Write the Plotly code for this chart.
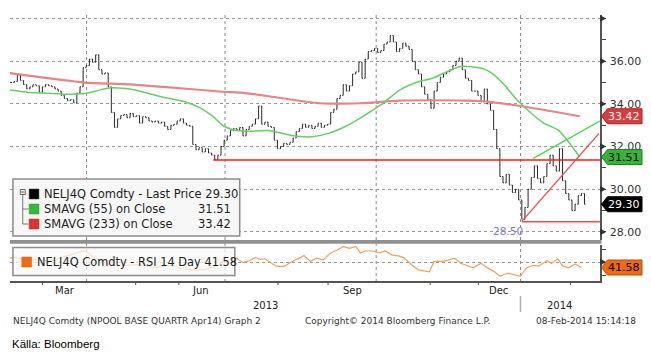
import plotly.graph_objects as go

# ---------------- data ----------------
bar_dates = [
 "2013-02-09","2013-02-11","2013-02-13","2013-02-15","2013-02-17","2013-02-19","2013-02-21","2013-02-23","2013-02-25","2013-02-27",
 "2013-03-01","2013-03-03","2013-03-05","2013-03-07","2013-03-09","2013-03-11","2013-03-13","2013-03-15","2013-03-17","2013-03-19","2013-03-21","2013-03-23","2013-03-25","2013-03-27","2013-03-29","2013-03-31",
 "2013-04-02","2013-04-04","2013-04-06","2013-04-08","2013-04-10","2013-04-12","2013-04-14","2013-04-16","2013-04-18","2013-04-20","2013-04-22","2013-04-24","2013-04-26","2013-04-28","2013-04-30",
 "2013-05-02","2013-05-04","2013-05-06","2013-05-08","2013-05-10","2013-05-12","2013-05-14","2013-05-16","2013-05-18","2013-05-20","2013-05-22","2013-05-24","2013-05-26","2013-05-28","2013-05-30",
 "2013-06-01","2013-06-03","2013-06-05","2013-06-07","2013-06-09","2013-06-11","2013-06-13","2013-06-15","2013-06-17","2013-06-19","2013-06-21","2013-06-23","2013-06-25","2013-06-27","2013-06-29",
 "2013-07-01","2013-07-03","2013-07-05","2013-07-07","2013-07-09","2013-07-11","2013-07-13","2013-07-15","2013-07-17","2013-07-19","2013-07-21","2013-07-23","2013-07-25","2013-07-27","2013-07-29","2013-07-31",
 "2013-08-02","2013-08-04","2013-08-06","2013-08-08","2013-08-10","2013-08-12","2013-08-14","2013-08-16","2013-08-18","2013-08-20","2013-08-22","2013-08-24","2013-08-26","2013-08-28","2013-08-30",
 "2013-09-01","2013-09-03","2013-09-05","2013-09-07","2013-09-09","2013-09-11","2013-09-13","2013-09-15","2013-09-17","2013-09-19","2013-09-21","2013-09-23","2013-09-25","2013-09-27","2013-09-29",
 "2013-10-01","2013-10-03","2013-10-05","2013-10-07","2013-10-09","2013-10-11","2013-10-13","2013-10-15","2013-10-17","2013-10-19","2013-10-21","2013-10-23","2013-10-25","2013-10-27","2013-10-29","2013-10-31",
 "2013-11-02","2013-11-04","2013-11-06","2013-11-08","2013-11-10","2013-11-12","2013-11-14","2013-11-16","2013-11-18","2013-11-20","2013-11-22","2013-11-24","2013-11-26","2013-11-28","2013-11-30",
 "2013-12-02","2013-12-04","2013-12-06","2013-12-08","2013-12-10","2013-12-12","2013-12-14","2013-12-16","2013-12-18","2013-12-20","2013-12-22","2013-12-24","2013-12-26","2013-12-28","2013-12-30",
 "2014-01-01","2014-01-03","2014-01-05","2014-01-07","2014-01-09","2014-01-11","2014-01-13","2014-01-15","2014-01-17","2014-01-19","2014-01-21","2014-01-23","2014-01-25","2014-01-27","2014-01-29","2014-01-31",
 "2014-02-02","2014-02-04","2014-02-06","2014-02-08","2014-02-10",
]
bar_close = [
 35.0, 35.05, 35.35, 35.1, 34.9, 34.7, 34.8, 34.9, 34.85, 34.55,
 34.8, 34.9, 34.85, 34.8, 34.7, 34.6, 34.4, 34.25, 34.15, 34.2, 34.05, 34.5, 34.8, 35.7, 35.8, 36.1,
 35.95, 36.3, 35.6, 35.4, 35.45, 34.8, 33.6, 32.9, 33.3, 33.45, 33.5, 33.35, 33.55, 33.4, 33.45,
 33.1, 33.4, 33.35, 33.2, 33.15, 33.2, 33.1, 33.15, 32.95, 32.8, 33.0, 33.05, 33.2, 33.3, 33.1,
 33.0, 32.95, 32.1, 31.85, 31.95, 31.75, 31.9, 31.7, 31.6, 31.4, 31.6, 32.0, 32.3, 32.5, 32.75,
 32.85, 32.8, 32.9, 32.5, 32.8, 32.95, 33.05, 33.3, 33.9, 33.05, 33.15, 32.95, 32.9, 32.3, 31.9, 32.0,
 32.15, 32.1, 32.2, 32.4, 32.7, 32.85, 33.05, 32.9, 33.0, 32.85, 32.95, 33.1, 32.9, 33.0, 33.05,
 33.6, 33.75, 34.25, 34.4, 34.9, 34.6, 34.85, 35.4, 35.5, 35.95, 35.2, 36.1, 36.45, 36.5, 36.6,
 36.4, 36.5, 36.8, 36.9, 37.2, 36.9, 36.45, 36.6, 36.85, 36.7, 36.55, 36.0, 35.6, 35.4, 34.8, 34.45,
 34.2, 33.8, 34.6, 35.0, 35.25, 35.4, 35.5, 35.6, 35.8, 36.0, 36.15, 35.6, 35.2, 35.1, 34.6,
 34.6, 34.4, 34.1, 34.7, 34.0, 33.7, 32.8, 31.9, 30.6, 30.3, 30.7, 30.2, 29.85, 30.0, 29.5,
 28.6, 29.15, 30.0, 30.55, 31.1, 30.5, 30.3, 30.6, 31.2, 31.6, 31.1, 30.85, 31.9, 30.4, 29.8, 29.5,
 29.0, 29.3, 29.7, 29.8, 29.3,
]

sma55_dates = ["2013-02-08","2013-02-19","2013-03-04","2013-03-16","2013-03-29","2013-04-04","2013-04-12",
               "2013-04-19","2013-04-26","2013-05-05","2013-05-18","2013-05-31","2013-06-10","2013-06-18",
               "2013-06-24","2013-07-01","2013-07-10","2013-07-23","2013-08-09","2013-08-20","2013-08-31",
               "2013-09-12","2013-09-23","2013-10-03","2013-10-15","2013-10-27","2013-11-05","2013-11-14",
               "2013-11-22","2013-11-30","2013-12-08","2013-12-13","2013-12-21","2013-12-29","2014-01-07",
               "2014-01-15","2014-01-24","2014-01-30","2014-02-07"]
sma55_vals = [34.65, 34.55, 34.5, 34.45, 34.5, 34.6, 34.75, 34.75, 34.7, 34.55, 34.3, 34.1, 33.8, 33.4,
              33.0, 32.78, 32.72, 32.75, 32.5, 32.46, 32.63, 33.0, 33.48, 33.95, 34.65, 35.04, 35.2, 35.5,
              35.74, 35.74, 35.63, 35.43, 34.88, 34.18, 33.56, 33.1, 32.78, 32.3, 31.51]

sma233_dates = ["2013-02-07","2013-03-28","2013-04-23","2013-05-17","2013-06-24","2013-07-07","2013-07-29",
                "2013-08-25","2013-09-20","2013-10-15","2013-11-28","2013-12-08","2013-12-31","2014-02-07"]
sma233_vals = [35.45, 35.0, 34.93, 34.8, 34.57, 34.52, 34.3, 34.03, 34.03, 34.15, 34.15, 34.12, 33.9, 33.42]

rsi_dates = ["2013-02-08","2013-02-11","2013-02-14","2013-02-21","2013-02-27","2013-03-05","2013-03-11",
             "2013-03-18","2013-03-22","2013-03-27","2013-03-30","2013-04-02","2013-04-05","2013-04-12",
             "2013-04-17","2013-04-25","2013-05-01","2013-05-07","2013-05-12","2013-05-17","2013-05-22",
             "2013-05-29","2013-06-04","2013-06-12","2013-06-18","2013-06-20","2013-06-24","2013-06-29",
             "2013-07-03","2013-07-07","2013-07-11","2013-07-15","2013-07-18","2013-07-21","2013-07-25",
             "2013-07-28","2013-07-31","2013-08-03","2013-08-06","2013-08-09","2013-08-12","2013-08-15",
             "2013-08-19","2013-08-23","2013-08-27","2013-09-01","2013-09-05","2013-09-09","2013-09-13",
             "2013-09-17","2013-09-20","2013-09-23","2013-09-28","2013-10-02","2013-10-06","2013-10-10",
             "2013-10-15","2013-10-18","2013-10-23","2013-10-27","2013-10-31","2013-11-03","2013-11-06",
             "2013-11-11","2013-11-15","2013-11-19","2013-11-23","2013-11-28","2013-12-01","2013-12-06",
             "2013-12-10","2013-12-14","2013-12-18","2013-12-23","2013-12-26","2013-12-31","2014-01-04",
             "2014-01-08","2014-01-12","2014-01-17","2014-01-20","2014-01-24","2014-01-27","2014-01-31",
             "2014-02-04","2014-02-08"]
rsi_vals = [56, 57, 55, 54, 53, 52, 55, 60, 64, 67, 65, 58, 55, 46, 44, 45, 46, 44, 41, 43, 45, 40, 38, 38,
            42, 44, 50, 53, 56, 49, 52, 57, 54, 55, 48, 44, 43, 44, 49, 52, 56, 60, 51, 56, 53, 64, 68, 74,
            71, 74, 64, 67, 67, 64, 67, 61, 59, 56, 45, 38, 36, 35, 51, 51, 53, 56, 48, 44, 41, 48, 41, 36,
            28, 33, 31, 28, 41, 45, 44, 52, 48, 55, 44, 41, 47, 41.58]

support_dates = ["2013-06-18", "2014-02-19 21:00"]
support_vals = [31.37, 31.37]
low_dates = ["2014-01-01", "2014-02-19 21:00"]
low_vals = [28.48, 28.48]
red_trend_dates = ["2014-01-01", "2014-02-19 07:00"]
red_trend_vals = [28.50, 32.62]
green_trend_dates = ["2014-01-08 07:00", "2014-02-19 21:00"]
green_trend_vals = [31.45, 33.20]

last_price = 29.30
sma55_last = 31.51
sma233_last = 33.42
rsi_last = 41.58
low_mark = 28.50
low_mark_date = "2014-01-01"
price_ticks = [28, 30, 32, 34, 36, 38]

if len(bar_dates) != len(bar_close):
    raise SystemExit(f"length mismatch {len(bar_dates)} {len(bar_close)}")

# ---------------- build OHLC table from closes ----------------
bar_open = [bar_close[0]] + bar_close[:-1]
bar_high = [max(o, c) for o, c in zip(bar_open, bar_close)]
bar_low = [min(o, c) for o, c in zip(bar_open, bar_close)]

FONT = "DejaVu Sans"
W, H = 651, 353
ML, MR, MT, MB = 10, 40, 15, 72
PW, PH = W - ML - MR, H - MT - MB


def px(x):
    return (x - ML) / PW


def py(y):
    return (H - MB - y) / PH


fig = go.Figure()

fig.add_trace(go.Scatter(x=sma233_dates, y=sma233_vals, mode="lines",
                         line=dict(color="#e68585", width=2.2, shape="spline", smoothing=0.6),
                         xaxis="x", yaxis="y", hoverinfo="skip"))
fig.add_trace(go.Scatter(x=sma55_dates, y=sma55_vals, mode="lines",
                         line=dict(color="#66cf66", width=1.5, shape="spline", smoothing=0.6),
                         xaxis="x", yaxis="y", hoverinfo="skip"))
fig.add_trace(go.Ohlc(x=bar_dates, open=bar_open, high=bar_high, low=bar_low, close=bar_close,
                      increasing=dict(line=dict(color="#111111", width=0.9)),
                      decreasing=dict(line=dict(color="#111111", width=0.9)),
                      tickwidth=0.3, xaxis="x", yaxis="y", hoverinfo="skip"))
fig.add_trace(go.Scatter(x=support_dates, y=support_vals, mode="lines",
                         line=dict(color="#ff1a1a", width=1.5), xaxis="x", yaxis="y", hoverinfo="skip"))
fig.add_trace(go.Scatter(x=low_dates, y=low_vals, mode="lines",
                         line=dict(color="#ff4a4a", width=1.3), xaxis="x", yaxis="y", hoverinfo="skip"))
fig.add_trace(go.Scatter(x=red_trend_dates, y=red_trend_vals, mode="lines",
                         line=dict(color="#ff4545", width=1.3), xaxis="x", yaxis="y", hoverinfo="skip"))
fig.add_trace(go.Scatter(x=green_trend_dates, y=green_trend_vals, mode="lines",
                         line=dict(color="#3de03d", width=1.3), xaxis="x", yaxis="y", hoverinfo="skip"))
fig.add_trace(go.Scatter(x=rsi_dates, y=rsi_vals, mode="lines",
                         line=dict(color="#f3a05c", width=1.2),
                         xaxis="x", yaxis="y2", hoverinfo="skip"))

shapes = []
annotations = []


def pline(x0, y0, x1, y1, color, width=1, dash=None, layer="above"):
    shapes.append(dict(type="line", xref="paper", yref="paper", x0=px(x0), y0=py(y0), x1=px(x1), y1=py(y1),
                       line=dict(color=color, width=width, dash=dash) if dash else dict(color=color, width=width),
                       layer=layer))


def prect(x0, y0, x1, y1, fill, line=None, lw=0, layer="above"):
    shapes.append(dict(type="rect", xref="paper", yref="paper", x0=px(x0), y0=py(y0), x1=px(x1), y1=py(y1),
                       fillcolor=fill, line=dict(color=line or fill, width=lw), layer=layer))


def ptext(text, x, y, size, color="#1e1e1e", xanchor="left", family=FONT):
    annotations.append(dict(text=text, xref="paper", yref="paper", x=px(x), y=py(y), xanchor=xanchor,
                            yanchor="middle", showarrow=False, font=dict(family=family, size=size, color=color)))


# vertical dotted quarter gridlines and month ticks
for gx in [88, 229, 383, 530]:
    pline(gx, 15, gx, 285, "#8a8a8a", 1, "dot", layer="below")
for tx in [43, 138, 182, 283, 334, 438, 487, 581]:
    pline(tx, 281, tx, 285, "#555555", 1)
pline(530, 296, 530, 312, "#b0b0b0", 1.5)

# separator between panels
prect(10, 240, 612.5, 243.8, "#909090")

# main legend box
prect(13, 179, 244, 236, "#f7f7f7", "#8c8c8c", 1.5)
prect(20.5, 189.5, 25.5, 194.5, "#ffffff", "#666666", 1)
pline(21.5, 192, 24.5, 192, "#444444", 1)
pline(23, 194.5, 23, 224, "#777777", 1)
pline(23, 209, 29, 209, "#777777", 1)
pline(23, 224, 29, 224, "#777777", 1)
prect(29.5, 189, 39.5, 199, "#000000", "#444444", 0.5)
prect(29.5, 204, 39.5, 214, "#33bb33", "#2a9a2a", 0.5)
prect(29.5, 219, 39.5, 229, "#dd3333", "#bb2a2a", 0.5)
ptext("NELJ4Q Comdty - Last Price %.2f" % last_price, 43, 194, 11.5)
ptext("SMAVG (55) on Close", 43, 209, 11.5)
ptext("%.2f" % sma55_last, 237, 209, 11.5, xanchor="right")
ptext("SMAVG (233) on Close", 43, 224, 11.5)
ptext("%.2f" % sma233_last, 237, 224, 11.5, xanchor="right")

# RSI legend box
prect(13, 247.5, 239, 275.5, "rgba(248,248,248,0.72)", "#8c8c8c", 1.5)
prect(22, 257, 32, 267, "#f26a10", "#d85a08", 0.5)
ptext("NELJ4Q Comdty - RSI 14 Day %.2f" % rsi_last, 35, 262, 11.4)

# axis text
for lab, lx in [("Mar", 66), ("Jun", 204), ("Sep", 359), ("Dec", 508)]:
    ptext(lab, lx, 290.5, 10, "#222222", xanchor="center")
ptext("2013", 270, 305, 10, "#222222", xanchor="center")
ptext("2014", 570, 305, 10, "#222222", xanchor="center")

# footer
ptext("NELJ4Q Comdty (NPOOL BASE QUARTR Apr14) Graph 2", 11, 320.5, 9, "#333333")
ptext("Copyright\u00a9 2014 Bloomberg Finance L.P.", 405, 320.5, 9, "#333333", xanchor="center")
ptext("08-Feb-2014 15:14:18", 650, 320.5, 9, "#333333", xanchor="right")
ptext("K\u00e4lla: Bloomberg", 10, 344, 11.5, "#000000", family="Liberation Sans")

# tick triangles on the right axis
for v in price_ticks:
    shapes.append(dict(type="path", xref="paper", yref="y", xsizemode="pixel", ysizemode="pixel",
                       xanchor=1, yanchor=v, path="M 0,-3.5 L 6,0 L 0,3.5 Z",
                       fillcolor="#333333", line=dict(width=0), layer="above"))
shapes.append(dict(type="path", xref="paper", yref="y2", xsizemode="pixel", ysizemode="pixel",
                   xanchor=1, yanchor=50, path="M 0,-3.5 L 6,0 L 0,3.5 Z",
                   fillcolor="#333333", line=dict(width=0), layer="above"))

# value badges
badges = [
    ("y", sma233_last, "#d93c3c", "#a82020", "white"),
    ("y", sma55_last, "#35b535", "#1f7f1f", "black"),
    ("y", last_price, "#000000", "#000000", "white"),
    ("y2", rsi_last, "#f06a12", "#b84c00", "black"),
]
for ref, val, fill, edge, tcol in badges:
    shapes.append(dict(type="path", xref="paper", yref=ref, xsizemode="pixel", ysizemode="pixel",
                       xanchor=1, yanchor=val, path="M 1.5,0 L 7.5,7.5 L 42,7.5 L 42,-7.5 L 7.5,-7.5 Z",
                       fillcolor=fill, line=dict(color=edge, width=1), layer="above"))
    annotations.append(dict(text="%.2f" % val, xref="paper", yref=ref, x=1, y=val, xanchor="left",
                            yanchor="middle", xshift=6, showarrow=False,
                            font=dict(family=FONT, size=11, color=tcol)))

# 28.50 low label
annotations.append(dict(text="%.2f" % low_mark, xref="x", yref="y", x=low_mark_date, y=28.07,
                        xanchor="right", yanchor="middle", xshift=3, showarrow=False,
                        font=dict(family=FONT, size=10.5, color="#7b7bd6")))

fig.update_layout(
    width=W, height=H, autosize=False,
    margin=dict(l=ML, r=MR, t=MT, b=MB, pad=0),
    paper_bgcolor="white", plot_bgcolor="white",
    showlegend=False,
    font=dict(family=FONT, size=11, color="#333333"),
    xaxis=dict(type="date", range=["2013-02-08 07:40", "2014-02-19 21:36"], anchor="y2",
               showline=True, linecolor="#555555", linewidth=1.5, ticks="", showticklabels=False,
               showgrid=False, zeroline=False, rangeslider=dict(visible=False), fixedrange=True),
    yaxis=dict(domain=[(H - MB - 240) / PH, 1], range=[27.625, 38.164], side="right", anchor="x",
               tickvals=price_ticks, ticktext=["%.2f" % v if v < 38 else "" for v in price_ticks],
               ticks="outside", ticklen=6, tickcolor="rgba(0,0,0,0)",
               tickfont=dict(family=FONT, size=11, color="#333333"),
               showgrid=True, gridcolor="#9a9a9a", griddash="dot", gridwidth=1,
               minor=dict(dtick=1, ticks="outside", ticklen=4, tickcolor="#444444", showgrid=False),
               showline=True, linecolor="#555555", linewidth=1.5, zeroline=False, fixedrange=True),
    yaxis2=dict(domain=[0, (H - MB - 245) / PH], range=[20.8, 76.2], side="right", anchor="x",
                tickvals=[50], showticklabels=False, ticks="outside", ticklen=6, tickcolor="rgba(0,0,0,0)",
                showgrid=True, gridcolor="#9a9a9a", griddash="dot", gridwidth=1,
                minor=dict(dtick=20, tick0=10, ticks="outside", ticklen=4, tickcolor="#444444", showgrid=False),
                showline=True, linecolor="#555555", linewidth=1.5, zeroline=False, fixedrange=True),
    shapes=shapes,
    annotations=annotations,
)

fig.write_html("out.html", include_plotlyjs=True, config={"displayModeBar": False, "staticPlot": True})
